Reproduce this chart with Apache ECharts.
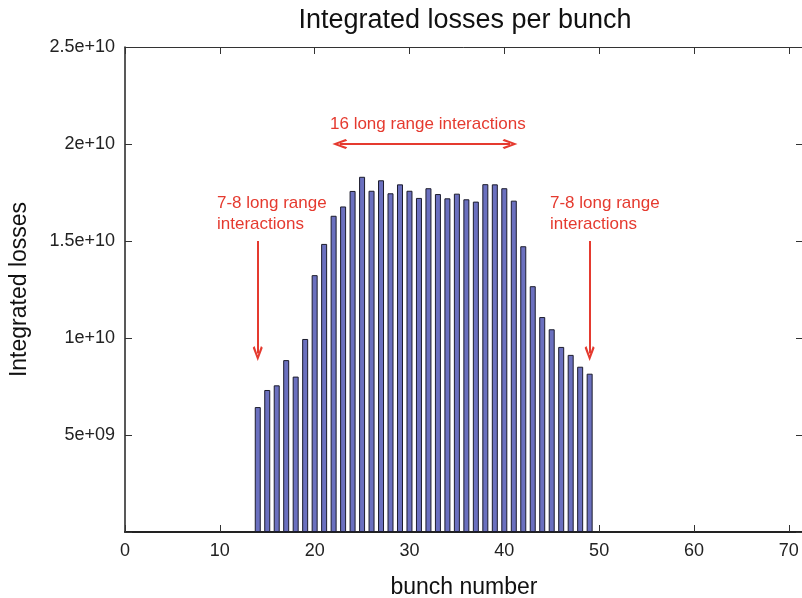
<!DOCTYPE html>
<html>
<head>
<meta charset="utf-8">
<script src="https://cdn.jsdelivr.net/npm/echarts@6/dist/echarts.min.js"></script>
<style>html,body{margin:0;padding:0;background:#fff}#c{width:802px;height:598px}</style>
</head>
<body>
<div id="c"></div>
<script>
var bunches = [14,15,16,17,18,19,20,21,22,23,24,25,26,27,28,29,30,31,32,33,34,35,36,37,38,39,40,41,42,43,44,45,46,47,48,49];
var losses = [6.44e9,7.32e9,7.56e9,8.86e9,8.01e9,9.95e9,13.24e9,14.85e9,16.30e9,16.78e9,17.58e9,18.31e9,17.59e9,18.13e9,17.46e9,17.92e9,17.59e9,17.22e9,17.72e9,17.42e9,17.20e9,17.44e9,17.15e9,17.03e9,17.93e9,17.92e9,17.72e9,17.08e9,14.73e9,12.67e9,11.08e9,10.45e9,9.54e9,9.13e9,8.52e9,8.16e9];
var xTicks = [0,10,20,30,40,50,60,70];
var yTickLabels = {"5000000000":"5e+09","10000000000":"1e+10","15000000000":"1.5e+10","20000000000":"2e+10","25000000000":"2.5e+10"};
var titleText = "Integrated losses per bunch";
var xName = "bunch number";
var yName = "Integrated losses";
var centerNote = "16 long range interactions";
var sideNote = "7-8 long range\ninteractions";
var centerArrow = [[22.65, 2.0e10],[40.6, 2.0e10]];
var leftArrow = [[14, 1.5e10],[14, 0.92e10]];
var rightArrow = [[49, 1.5e10],[49, 0.92e10]];

var FONT = '"Liberation Sans", Arial, Helvetica, sans-serif';
var RED = '#e53a2f';
var chev = 'path://M5,0 L10,13 L8.2,14.6 L5,5.5 L1.8,14.6 L0,13 Z';

var data = bunches.map(function(b,i){return [b, losses[i]];});

var chart = echarts.init(document.getElementById('c'));
chart.setOption({
  animation:false,
  backgroundColor:'#fff',
  title:{text:titleText,left:460,textAlign:'center',top:2,textStyle:{fontFamily:FONT,fontSize:27,fontWeight:'normal',color:'#111'}},
  grid:{left:125,top:47,width:678,height:485,containLabel:false,outerBoundsMode:'none'},
  xAxis:[{
    type:'value',min:0,max:71.5,interval:10,position:'bottom',
    name:xName,nameLocation:'middle',nameGap:44,
    nameTextStyle:{fontFamily:FONT,fontSize:23,color:'#111',verticalAlign:'top'},
    axisLine:{show:true,onZero:false,lineStyle:{color:'#222',width:2}},
    axisTick:{show:true,inside:true,length:7,lineStyle:{color:'#333'}},
    axisLabel:{fontFamily:FONT,fontSize:18,color:'#222',margin:10,showMaxLabel:false,
      formatter:function(v){return xTicks.indexOf(v)>=0?String(v):'';}},
    splitLine:{show:false}
  },{
    type:'value',min:0,max:71.5,interval:10,position:'top',
    axisLine:{show:true,onZero:false,lineStyle:{color:'#333',width:1}},
    axisTick:{show:true,inside:true,length:7,lineStyle:{color:'#333'}},
    axisLabel:{show:false},splitLine:{show:false}
  }],
  yAxis:[{
    type:'value',min:0,max:2.5e10,interval:5e9,position:'left',
    name:yName,nameLocation:'middle',nameGap:94,nameRotate:90,
    nameTextStyle:{fontFamily:FONT,fontSize:23,color:'#111'},
    axisLine:{show:true,onZero:false,lineStyle:{color:'#222',width:1.5}},
    axisTick:{show:true,inside:true,length:7,lineStyle:{color:'#333'}},
    axisLabel:{fontFamily:FONT,fontSize:18,color:'#222',margin:10,
      formatter:function(v){return yTickLabels[String(v)]||'';}},
    splitLine:{show:false}
  },{
    type:'value',min:0,max:2.5e10,interval:5e9,position:'right',
    axisLine:{show:true,onZero:false,lineStyle:{color:'#333',width:1}},
    axisTick:{show:true,inside:true,length:7,lineStyle:{color:'#333'}},
    axisLabel:{show:false},splitLine:{show:false}
  }],
  series:[{
    type:'bar',xAxisIndex:0,yAxisIndex:0,data:data,barWidth:6,
    itemStyle:{color:'#6b70bf',borderColor:'#1c1c2c',borderWidth:1},
    markLine:{
      silent:true,symbol:[chev,chev],symbolSize:[10,15],
      label:{show:false},
      lineStyle:{color:RED,width:2,type:'solid'},
      data:[
        [{coord:centerArrow[0]},{coord:centerArrow[1]}]
      ]
    }
  },{
    type:'line',xAxisIndex:0,yAxisIndex:0,data:[],
    markLine:{
      silent:true,symbol:['none',chev],symbolSize:[10,15],
      label:{show:false},
      lineStyle:{color:RED,width:2,type:'solid'},
      data:[
        [{coord:leftArrow[0]},{coord:leftArrow[1]}],
        [{coord:rightArrow[0]},{coord:rightArrow[1]}]
      ]
    }
  }],
  graphic:[
    {type:'text',left:330,top:116,style:{text:centerNote,font:'17px '+FONT,fill:RED}},
    {type:'text',left:217,top:193,style:{text:sideNote,font:'17px '+FONT,fill:RED,lineHeight:21}},
    {type:'text',left:550,top:193,style:{text:sideNote,font:'17px '+FONT,fill:RED,lineHeight:21}}
  ]
});
</script>
</body>
</html>
